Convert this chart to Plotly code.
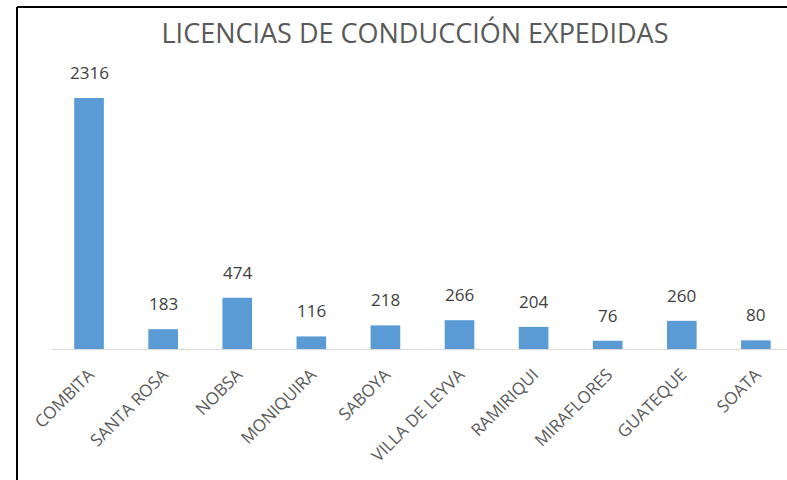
import plotly.graph_objects as go

categories = ["COMBITA", "SANTA ROSA", "NOBSA", "MONIQUIRA", "SABOYA",
              "VILLA DE LEYVA", "RAMIRIQUI", "MIRAFLORES", "GUATEQUE", "SOATA"]
values = [2316, 183, 474, 116, 218, 266, 204, 76, 260, 80]

W, H = 787, 480
ML, MT, MB, MR = 52, 60, 131, 0
PW = W - ML - MR
PH = H - MT - MB

def px_x(px):
    return (px - ML) / PW

def px_y(py):
    return (H - MB - py) / PH

fig = go.Figure()
fig.add_trace(go.Bar(
    x=categories, y=values,
    marker=dict(color="#5B9BD5", line=dict(width=0)),
    width=0.4,
    hoverinfo="x+y",
))

for c, v in zip(categories, values):
    fig.add_annotation(x=c, y=v, text=str(v), showarrow=False,
                       yanchor="bottom", yshift=12,
                       font=dict(family="Open Sans", size=17, color="#404040"))

fig.update_layout(
    width=W, height=H,
    margin=dict(l=ML, r=MR, t=MT, b=MB, autoexpand=False),
    paper_bgcolor="white", plot_bgcolor="white",
    title=dict(text="LICENCIAS DE CONDUCCIÓN EXPEDIDAS",
               x=px_x(415), xref="paper", xanchor="center",
               y=1 - 34 / H, yanchor="middle",
               font=dict(family="Open Sans", size=27, color="#595959")),
    showlegend=False,
    xaxis=dict(range=[-0.5, 9.42], tickangle=-45, showgrid=False,
               showline=True, linecolor="#D9D9D9", linewidth=1,
               ticks="", ticklabelstandoff=8,
               tickfont=dict(family="Open Sans", size=17, color="#595959")),
    yaxis=dict(range=[0, 2667], visible=False, showgrid=False, zeroline=False),
    shapes=[
        dict(type="line", xref="paper", yref="paper",
             x0=px_x(17), x1=px_x(790), y0=px_y(7), y1=px_y(7),
             line=dict(color="black", width=2)),
        dict(type="line", xref="paper", yref="paper",
             x0=px_x(17), x1=px_x(17), y0=px_y(7), y1=px_y(485),
             line=dict(color="black", width=2)),
    ],
)

fig.write_html("out.html", config={"displayModeBar": False},
               post_script="document.body.style.margin='0';document.body.style.overflow='hidden';")
